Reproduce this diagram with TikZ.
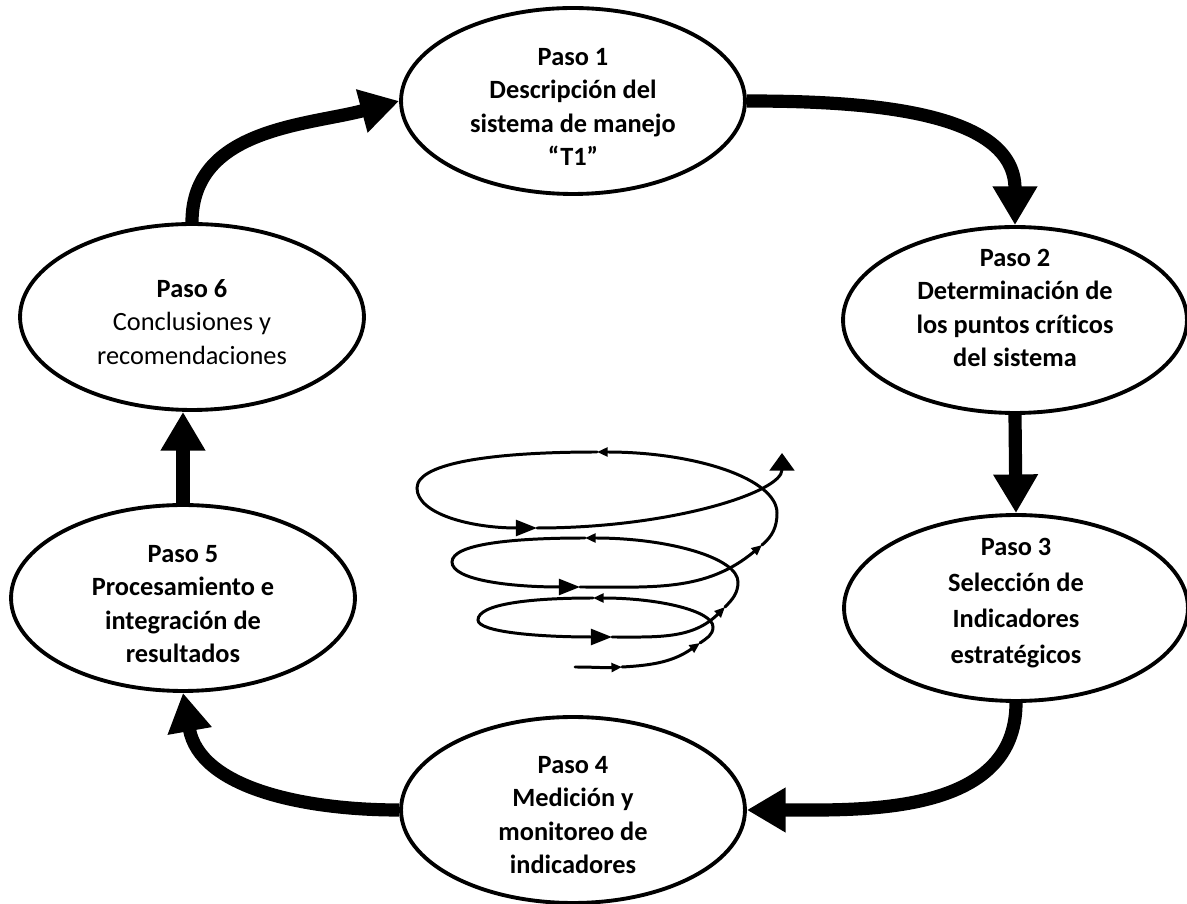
\documentclass[tikz,border=0pt]{standalone}
\usepackage{fontspec}
\setmainfont{Carlito}[Ligatures=NoCommon]
\usetikzlibrary{arrows.meta,shapes.geometric}

\tikzset{
  paso/.style={ellipse, draw, line width=2.2pt, minimum width=6.88cm, minimum height=3.72cm, inner sep=0pt},
  texto/.style={align=center, inner sep=0pt, font=\fontsize{15}{18.9}\selectfont\bfseries},
  flecha/.style={line width=7.5pt, -{Triangle[length=22pt,width=24pt]}},
  espiral/.style={line width=1.7pt, line cap=round},
  chica/.tip={Triangle[length=6pt,width=5pt]},
  grande/.tip={Triangle[length=12pt,width=9pt]},
  punta/.tip={Triangle[length=10pt,width=14pt]},
}

\begin{document}
\begin{tikzpicture}[x=0.02cm,y=0.02cm]
    \useasboundingbox (0,0) rectangle (1187,903);

    % pasos del ciclo
    \node[paso] (p1) at (573,802) {};
    \node[paso] (p2) at (1015,583) {};
    \node[paso] (p3) at (1016,295) {};
    \node[paso] (p4) at (573,93) {};
    \node[paso] (p5) at (183,305) {};
    \node[paso] (p6) at (192,586) {};
    \node[texto] (t1) at ([yshift=-0.12cm]p1.center) {Paso 1\\Descripción del\\sistema de manejo\\“T1”};
    \node[texto] (t2) at ([yshift=0.24cm]p2.center) {Paso 2\\Determinación de\\los puntos críticos\\del sistema};
    \node[texto, font=\fontsize{15}{20.5}\selectfont\bfseries] (t3) at ([yshift=0.1cm]p3.center) {Paso 3\\Selección de\\Indicadores\\estratégicos};
    \node[texto] (t4) at ([yshift=-0.1cm]p4.center) {Paso 4\\Medición y\\monitoreo de\\indicadores};
    \node[texto] (t5) at ([yshift=-0.12cm]p5.center) {Paso 5\\Procesamiento e\\integración de\\resultados};
    \node[texto, font=\fontsize{15}{18.9}\selectfont] (t6) at ([yshift=-0.1cm]p6.center) {\textbf{Paso 6}\\Conclusiones y\\recomendaciones};

    % flechas
    \draw[flecha] (p6.north) to[out=90,in=195] (p1.west);
    \draw[flecha] (p1.east) to[out=0,in=90] (p2.north);
    \draw[flecha] (p2.south) -- (p3.north);
    \draw[flecha] (p3.south) to[out=270,in=0] (p4.east);
    \draw[flecha] (p4.west) to[out=180,in=280] (p5.south);
    \draw[flecha] (p5.north) -- (p5.north |- p6.south);

    % espiral
    \draw[espiral,-{chica}] (575,236) to[out=0,in=183] (622,236);
    \draw[espiral,-{chica}] (622,236) to[out=3,in=215] (700,260);
    \draw[espiral,-{chica}] (700,260) to[out=35,in=270] (713,276) .. controls +(0,16) and +(66,0) .. (593,305);
    \draw[espiral,-{grande}] (593,305) .. controls +(-63,0) and +(0,16) .. (478,283) .. controls +(0,-12) and +(-74,0) .. (612,266);
    \draw[espiral,-{chica}] (612,266) to[out=0,in=225] (725,296);
    \draw[espiral,-{chica}] (725,296) to[out=45,in=270] (738,321) .. controls +(0,24) and +(84,0) .. (585,365);
    \draw[espiral,-{grande}] (585,365) .. controls +(-73,0) and +(0,18) .. (452,341) .. controls +(0,-18) and +(-70,0) .. (580,316);
    \draw[espiral,-{chica}] (580,316) to[out=0,in=220] (762,358);
    \draw[espiral,-{chica}] (762,358) to[out=40,in=270] (777,390) .. controls +(0,34) and +(99,0) .. (597,451);
    \draw[espiral,-{grande}] (597,451) .. controls +(-99,0) and +(0,26) .. (417,415) .. controls +(0,-26) and +(-66,0) .. (537,375);
    \draw[espiral,-{punta}] (537,375) .. controls +(135,0) and +(0,-39) .. (782,450);

\end{tikzpicture}
\end{document}
